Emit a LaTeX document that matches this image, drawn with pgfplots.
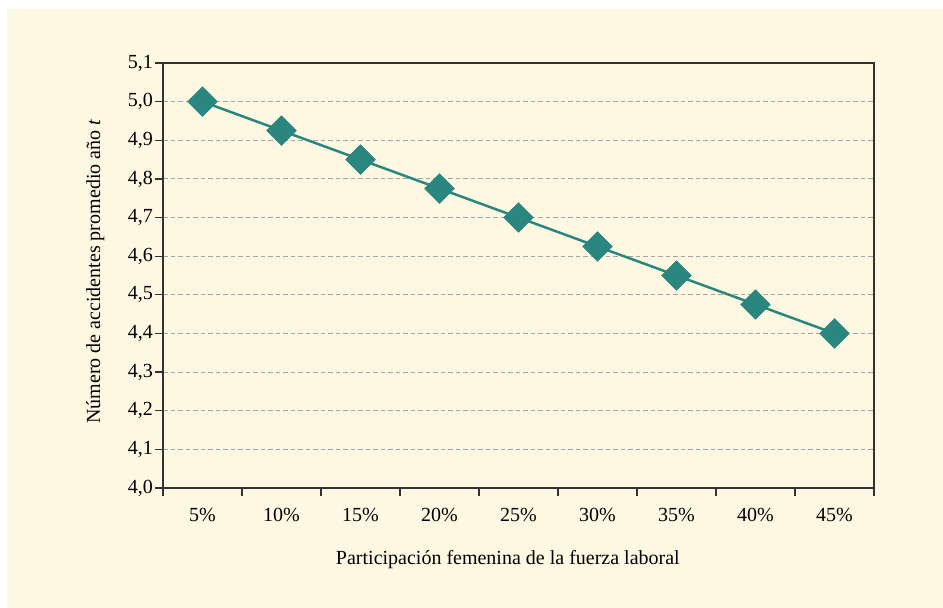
\documentclass[border=0pt]{standalone}
\usepackage{pgfplots}
\pgfplotsset{compat=1.18}
\usepackage{fontspec}
\setmainfont{Liberation Serif}
\definecolor{cream}{RGB}{254,248,226}
\definecolor{tealc}{RGB}{42,135,128}
\definecolor{axisgray}{RGB}{50,50,50}
\definecolor{gridgray}{RGB}{165,165,165}
\begin{document}
\begin{tikzpicture}[x=1pt,y=1pt]
\fill[white] (0,0) rectangle (943,608);
\fill[cream] (7,0) rectangle (943,599);
\begin{axis}[
  at={(163pt,120pt)}, anchor=south west,
  scale only axis, width=711pt, height=425pt,
  xmin=0, xmax=9, ymin=4.0, ymax=5.1,
  xtick={0,1,2,3,4,5,6,7,8,9},
  xticklabels={5\%,10\%,15\%,20\%,25\%,30\%,35\%,40\%,45\%},
  x tick label as interval,
  xticklabel style={yshift=-9pt},
  ytick={4.0,4.1,4.2,4.3,4.4,4.5,4.6,4.7,4.8,4.9,5.0,5.1},
  yticklabel style={inner xsep=2pt, /pgf/number format/.cd, use comma, fixed, fixed zerofill, precision=1, assume math mode=true},
  tick align=outside, major tick length=8pt,
  xtick pos=bottom, ytick pos=left,
  tick style={axisgray, line width=1.2pt},
  axis line style={axisgray, line width=1.2pt},
  ymajorgrids,
  grid style={gridgray, line width=1.1pt, dash pattern=on 4.5pt off 3pt},
  font=\fontsize{20}{24}\selectfont,
  xlabel={Participación femenina de la fuerza laboral},
  ylabel={Número de accidentes promedio año \textit{t}},
  xlabel style={at={(axis description cs:0.485,-0.181)}, anchor=base},
  ylabel style={at={(axis description cs:-0.0886,0.509)}, anchor=base},
]
\addplot[tealc, line width=2.5pt, mark=square*, mark size=10.5pt,
  mark options={rotate=45, fill=tealc, draw=tealc, line width=0.5pt}]
  coordinates {(0.5,5.000) (1.5,4.925) (2.5,4.850) (3.5,4.775) (4.5,4.700)
               (5.5,4.625) (6.5,4.550) (7.5,4.475) (8.5,4.400)};
\end{axis}
\pgfresetboundingbox
\useasboundingbox (0,0) rectangle (943,608);
\end{tikzpicture}
\end{document}
